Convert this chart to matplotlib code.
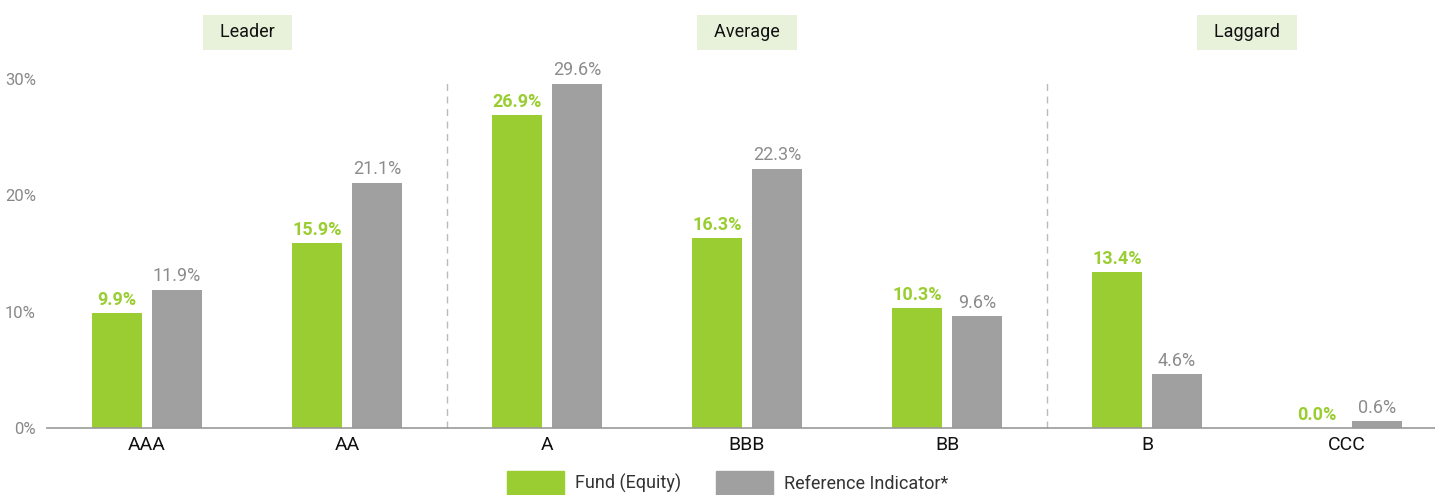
import matplotlib.pyplot as plt
from matplotlib.patches import Patch

plt.rcParams['font.family'] = ['Roboto', 'DejaVu Sans']

ratings = ['AAA', 'AA', 'A', 'BBB', 'BB', 'B', 'CCC']
fund = [9.9, 15.9, 26.9, 16.3, 10.3, 13.4, 0.0]
reference = [11.9, 21.1, 29.6, 22.3, 9.6, 4.6, 0.6]
groups = ['Leader', 'Average', 'Laggard']
group_centers = [0.5, 3, 5.5]
separators = [1.5, 4.5]

green = '#9ACD32'
grey = '#A0A0A0'

fig = plt.figure(figsize=(14.35, 4.95), dpi=100)
ax = fig.add_axes([0.0328, 0.1354, 0.9672, 0.705])

x = range(len(ratings))
w = 0.25
off = 0.15
xf = [i - off for i in x]
xr = [i + off for i in x]
ax.bar(xf, fund, width=w, color=green)
ax.bar(xr, reference, width=w, color=grey)

for xi, v in zip(xf, fund):
    ax.annotate(f'{v:.1f}%', (xi, v), xytext=(0, 3), textcoords='offset points',
                ha='center', va='bottom', color=green, fontsize=13, fontweight='bold')
for xi, v in zip(xr, reference):
    ax.annotate(f'{v:.1f}%', (xi, v), xytext=(0, 3), textcoords='offset points',
                ha='center', va='bottom', color='#8C8C8C', fontsize=13)

for s in separators:
    ax.plot([s, s], [0, 30], color='#BBBBBB', lw=1, ls=(0, (5, 4)), clip_on=False)

for g, c in zip(groups, group_centers):
    ax.text(c, 34.0, '  ' + g + '  ', ha='center', va='center', fontsize=13, color='#111111',
            bbox=dict(boxstyle='square,pad=0.45', fc='#E8F2DA', ec='none'))

ax.set_xlim(-0.5, 6.44)
ax.set_ylim(0, 30)
ax.set_yticks([0, 10, 20, 30])
ax.set_yticklabels(['0%', '10%', '20%', '30%'])
ax.set_xticks(list(x))
ax.set_xticklabels(ratings)
ax.tick_params(axis='y', length=0, labelsize=12, labelcolor='#888888', pad=8)
ax.tick_params(axis='x', length=0, labelsize=14, labelcolor='#111111', pad=6)
for sp in ['top', 'right', 'left']:
    ax.spines[sp].set_visible(False)
ax.spines['bottom'].set_color('#999999')
ax.spines['bottom'].set_linewidth(1.2)

handles = [Patch(color=green, label='Fund (Equity)'), Patch(color=grey, label='Reference Indicator*')]
fig.legend(handles=handles, loc='lower center', bbox_to_anchor=(0.507, -0.035), ncol=2,
           frameon=False, fontsize=13, handlelength=3.2, handleheight=1.8,
           columnspacing=1.9, handletextpad=0.6, labelcolor='#333333')

fig.savefig('out.png', dpi=100)
